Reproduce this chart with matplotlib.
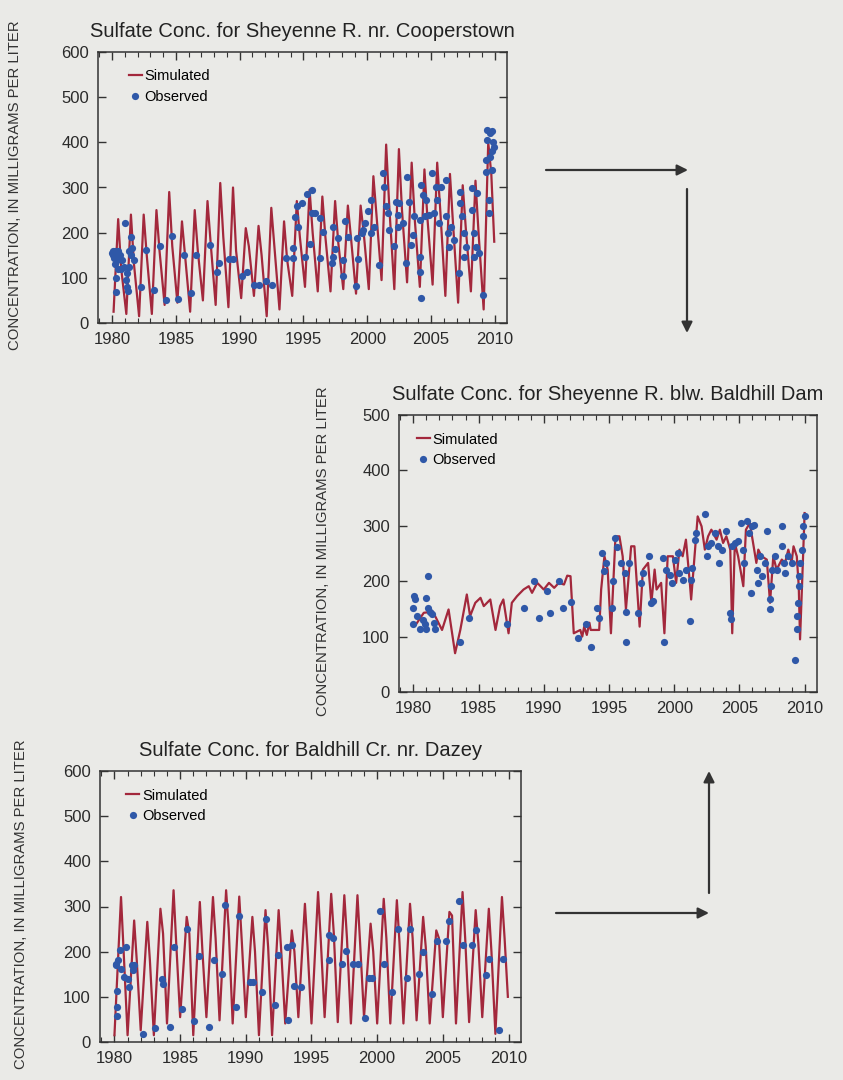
import numpy as np
import matplotlib
matplotlib.use('Agg')
import matplotlib.pyplot as plt
from matplotlib.ticker import MultipleLocator

plt.rcParams['font.family'] = ['Liberation Sans', 'DejaVu Sans']

######## data

# panel 1 - Sheyenne R. nr. Cooperstown (simulated: yearly trough / peak / shoulder)
coop_years = list(range(1980, 2010))
coop_low = [25, 20, 15, 20, 40, 45, 25, 50, 40, 35, 55, 60, 15, 30, 60,
            80, 70, 70, 75, 65, 75, 95, 75, 90, 80, 85, 60, 45, 70, 30]
coop_high = [230, 240, 240, 250, 290, 225, 250, 270, 310, 300, 210, 215, 255, 225, 270,
             295, 280, 270, 260, 260, 325, 395, 385, 355, 340, 355, 330, 305, 315, 400]
coop_mid = [120, 130, 150, 160, 170, 150, 160, 180, 190, 160, 170, 150, 170, 140, 190,
            200, 190, 180, 190, 200, 240, 260, 250, 230, 230, 250, 220, 210, 200, 330]
coop_end = 180

coop_obs_t = [1980.0, 1980.05, 1980.1, 1980.15, 1980.2, 1980.25, 1980.3, 1980.3, 1980.35, 1980.4,
              1980.45, 1980.5, 1980.6, 1981.0, 1980.7, 1980.8, 1980.9, 1981.1, 1981.2, 1981.25,
              1981.2, 1981.5, 1981.6, 1981.75, 1981.45, 1981.35, 1981.3,
              1982.25, 1982.7, 1983.25, 1983.75, 1984.2, 1984.7, 1985.2, 1985.6, 1986.2,
              1986.55, 1987.65, 1988.2, 1988.4, 1989.2, 1989.5, 1990.2, 1990.55, 1991.1,
              1991.5, 1992.1, 1992.5, 1993.6, 1994.2, 1994.2, 1994.3, 1994.5, 1994.6,
              1994.85, 1995.1, 1995.25, 1995.5, 1995.65, 1995.65, 1995.9, 1996.3, 1996.3,
              1996.55, 1997.2, 1997.3, 1997.3, 1997.45, 1997.7, 1998.1, 1998.1, 1998.25,
              1998.5, 1999.15, 1999.3, 1999.2, 1999.55, 1999.65, 1999.8, 2000.05, 2000.3,
              2000.3, 2000.55, 2000.95, 2001.2, 2001.35, 2001.5, 2001.6, 2001.7, 2002.1,
              2002.25, 2002.4, 2002.4, 2002.5, 2002.8, 2003.05, 2003.15, 2003.3, 2003.45,
              2003.55, 2003.7, 2004.1, 2004.1, 2004.15, 2004.2, 2004.2, 2004.35, 2004.5,
              2004.6, 2004.85, 2005.1, 2005.25, 2005.35, 2005.5, 2005.6, 2005.75, 2006.15,
              2006.15, 2006.3, 2006.4, 2006.55, 2006.8, 2007.15, 2007.3, 2007.3, 2007.45,
              2007.55, 2007.55, 2007.7, 2008.2, 2008.2, 2008.35, 2008.35, 2008.5, 2008.6,
              2008.75, 2009.1, 2009.3, 2009.3, 2009.4, 2009.4, 2009.55, 2009.55, 2009.65,
              2009.65, 2009.8, 2009.8, 2009.9, 2009.75, 2009.85]
coop_obs_v = [155, 150, 160, 145, 160, 130, 100, 68, 155, 140,
              160, 120, 150, 222, 120, 140, 125, 95, 80, 70,
              110, 190, 165, 140, 150, 125, 160,
              80, 162, 72, 170, 52, 193, 54, 150, 66,
              150, 172, 112, 132, 141, 141, 103, 112, 85,
              85, 92, 85, 143, 143, 165, 235, 258, 213,
              266, 147, 285, 175, 295, 243, 243, 143, 232,
              202, 133, 147, 213, 163, 188, 103, 140, 225,
              191, 81, 141, 188, 199, 206, 221, 247, 272,
              199, 213, 129, 331, 302, 258, 243, 206, 171,
              269, 239, 213, 265, 221, 133, 324, 269, 173,
              195, 236, 228, 147, 114, 55, 306, 284, 236,
              272, 239, 331, 243, 302, 272, 221, 302, 317,
              236, 199, 169, 213, 184, 110, 291, 265, 236,
              199, 147, 169, 298, 250, 199, 147, 169, 287,
              155, 63, 361, 335, 427, 405, 272, 243, 420,
              368, 425, 339, 390, 380, 400]

# panel 2 - Sheyenne R. blw. Baldhill Dam
dam_sim_t = [1980.2, 1980.8, 1981.5, 1982.2, 1982.7, 1983.2, 1983.6, 1984.1, 1984.35, 1984.75,
             1985.15, 1985.4, 1985.9, 1986.3, 1986.65, 1986.9, 1987.3, 1987.55, 1987.95, 1988.45,
             1988.85, 1989.1, 1989.5, 1990.0, 1990.4, 1990.8, 1991.15, 1991.55, 1991.8, 1992.05,
             1992.3, 1992.8, 1992.95, 1993.1, 1993.3, 1993.5, 1993.6, 1994.25, 1994.4, 1994.65,
             1994.9, 1995.15, 1995.5, 1995.8, 1996.05, 1996.3, 1996.7, 1996.95, 1997.35, 1997.6,
             1998.0, 1998.25, 1998.5, 1998.65, 1999.0, 1999.25, 1999.5, 1999.9, 2000.15, 2000.4,
             2000.65, 2000.9, 2001.2, 2001.3, 2001.6, 2001.8, 2002.1, 2002.35, 2002.6, 2002.85,
             2003.25, 2003.5, 2003.75, 2004.0, 2004.3, 2004.45, 2004.65, 2004.9, 2005.3, 2005.5,
             2005.8, 2006.05, 2006.3, 2006.45, 2006.7, 2007.1, 2007.35, 2007.6, 2007.85, 2008.25,
             2008.5, 2008.75, 2009.0, 2009.15, 2009.4, 2009.55, 2009.65, 2009.8, 2010.0]
dam_sim_v = [122, 143, 145, 112, 149, 70, 112, 176, 137, 161,
             170, 155, 167, 112, 155, 167, 106, 161, 173, 185,
             191, 179, 197, 185, 197, 188, 197, 194, 210, 209,
             106, 112, 100, 118, 103, 125, 112, 112, 185, 245,
             221, 106, 281, 281, 245, 149, 263, 263, 118, 221,
             233, 161, 221, 185, 197, 106, 245, 245, 197, 257,
             245, 275, 197, 167, 257, 317, 299, 257, 281, 293,
             275, 293, 269, 281, 257, 106, 269, 245, 191, 293,
             305, 269, 233, 257, 245, 239, 161, 245, 221, 239,
             233, 257, 233, 263, 245, 191, 95, 191, 323]

dam_obs_t = [1979.95, 1980.05, 1980.0, 1980.15, 1980.25, 1980.5, 1980.9, 1980.75, 1981.0, 1981.0,
             1981.15, 1981.15, 1981.3, 1981.4, 1981.55, 1981.65, 1983.6, 1984.25, 1987.2, 1988.5,
             1989.25, 1989.6, 1990.25, 1990.45, 1991.15, 1991.5, 1992.1, 1992.65, 1993.2, 1993.65,
             1994.1, 1994.25, 1994.45, 1994.6, 1994.75, 1995.25, 1995.3, 1995.45, 1995.6, 1995.9,
             1996.2, 1996.3, 1996.3, 1996.55, 1997.2, 1997.45, 1997.6, 1998.1, 1998.25, 1998.35,
             1999.15, 1999.25, 1999.4, 1999.65, 1999.8, 2000.05, 2000.3, 2000.4, 2000.65, 2000.9,
             2001.25, 2001.3, 2001.4, 2001.6, 2001.7, 2002.35, 2002.5, 2002.6, 2002.85, 2003.1,
             2003.35, 2003.4, 2003.65, 2004.0, 2004.3, 2004.35, 2004.45, 2004.65, 2004.9, 2005.15,
             2005.3, 2005.35, 2005.55, 2005.7, 2005.95, 2005.9, 2006.1, 2006.35, 2006.45, 2006.6,
             2006.7, 2006.95, 2007.1, 2007.35, 2007.35, 2007.45, 2007.5, 2007.75, 2007.9, 2008.25,
             2008.3, 2008.4, 2008.5, 2008.75, 2009.05, 2009.3, 2009.4, 2009.4, 2009.5, 2009.55,
             2009.6, 2009.65, 2009.8, 2009.85, 2009.9, 2010.0]
dam_obs_v = [122, 173, 152, 167, 137, 113, 122, 130, 113, 170,
             209, 152, 145, 140, 125, 113, 91, 134, 122, 152,
             201, 134, 182, 143, 201, 152, 162, 97, 122, 81,
             152, 134, 251, 218, 233, 152, 201, 278, 262, 233,
             215, 144, 90, 233, 143, 197, 214, 245, 161, 164,
             242, 90, 221, 212, 197, 239, 251, 215, 203, 221,
             128, 203, 224, 275, 287, 321, 245, 263, 269, 287,
             263, 233, 257, 290, 143, 131, 263, 269, 272, 305,
             257, 233, 308, 287, 299, 179, 302, 221, 197, 245,
             209, 233, 291, 149, 167, 191, 221, 245, 221, 299,
             263, 233, 215, 245, 233, 58, 113, 137, 161, 191,
             209, 233, 257, 281, 299, 317]

# panel 3 - Baldhill Cr. nr. Dazey (simulated: yearly trough / peak / shoulder)
dazey_years = list(range(1980, 2010))
dazey_low = [15, 15, 26, 15, 41, 55, 15, 55, 48, 41, 55, 15, 15, 41, 55,
             41, 55, 44, 41, 55, 41, 41, 41, 48, 41, 55, 41, 44, 55, 18]
dazey_high = [321, 269, 266, 295, 336, 277, 310, 321, 336, 322, 277, 292, 292, 247, 306,
              332, 328, 325, 325, 262, 317, 314, 306, 277, 247, 288, 332, 292, 295, 321]
dazey_mid = [200, 180, 180, 240, 220, 240, 200, 230, 250, 220, 200, 210, 200, 200, 210,
             230, 240, 230, 220, 200, 230, 220, 230, 210, 230, 280, 230, 220, 200, 230]
dazey_end = 100

dazey_obs_t = [1980.1, 1980.15, 1980.3, 1980.2, 1980.2, 1980.2, 1980.4, 1980.5, 1980.7, 1980.85,
               1981.0, 1981.1, 1981.35, 1981.45, 1981.5, 1982.2, 1983.1, 1983.6, 1983.7, 1984.2,
               1984.5, 1985.15, 1985.55, 1986.05, 1986.45, 1987.2, 1987.6, 1988.2, 1988.45, 1989.25,
               1989.45, 1990.3, 1990.55, 1991.2, 1991.5, 1992.2, 1992.45, 1993.25, 1993.15, 1993.5,
               1993.7, 1994.2, 1996.35, 1996.35, 1996.65, 1997.35, 1997.65, 1998.15, 1998.55, 1999.1,
               1999.4, 1999.6, 2000.25, 2000.55, 2001.15, 2001.6, 2002.25, 2002.5, 2003.2, 2003.5,
               2004.15, 2004.55, 2005.25, 2005.45, 2006.2, 2006.5, 2007.25, 2007.55, 2008.3, 2008.55,
               2009.25, 2009.6]
dazey_obs_v = [173, 170, 181, 114, 77, 57, 203, 162, 144, 210,
               140, 122, 170, 159, 170, 18, 31, 140, 129, 33,
               210, 74, 251, 46, 190, 33, 181, 150, 303, 77,
               280, 133, 133, 111, 273, 81, 192, 49, 210, 215,
               123, 122, 181, 236, 231, 172, 201, 172, 172, 54,
               142, 142, 291, 172, 111, 251, 142, 251, 151, 199,
               107, 224, 224, 268, 312, 214, 215, 249, 149, 184,
               27, 184]

######## colors
bg = '#eaeae7'
red = '#a3283c'
blue = '#2f58a8'


def seasonal_line(years, low, high, mid, end, ph_low, ph_high, ph_mid):
    t = []
    v = []
    for i in range(len(years)):
        t += [years[i] + ph_low, years[i] + ph_high, years[i] + ph_mid]
        v += [low[i], high[i], mid[i]]
    t.append(years[-1] + 0.95)
    v.append(end)
    return t, v


def style_axes(ax, ymax, title, leg_dx):
    ax.set_facecolor(bg)
    ax.set_xlim(1978.9, 2010.95)
    ax.set_ylim(0, ymax)
    ax.xaxis.set_major_locator(MultipleLocator(5))
    ax.xaxis.set_minor_locator(MultipleLocator(1))
    ax.yaxis.set_major_locator(MultipleLocator(100))
    ax.tick_params(which='both', direction='in', top=True, right=True,
                   labelsize=12, color='#333333', labelcolor='#2a2a2a')
    ax.tick_params(which='major', length=6, width=1, pad=6.5)
    ax.tick_params(which='minor', length=3.5, width=0.8)
    for s in ax.spines.values():
        s.set_color('#333333')
        s.set_linewidth(1.1)
    ax.set_title(title, fontsize=14.5, pad=11, color='#222222')
    ax.set_ylabel('CONCENTRATION, IN MILLIGRAMS PER LITER', fontsize=10.7, color='#333333')
    ax.legend(loc='upper left', bbox_to_anchor=(leg_dx, 1.0), frameon=False,
              fontsize=10.5, handlelength=0.9, handletextpad=0.2, labelspacing=0.45,
              borderaxespad=0.9, borderpad=0.3, numpoints=1)


fig = plt.figure(figsize=(8.43, 10.8), dpi=100)
fig.patch.set_facecolor(bg)

## panel 1
ax1 = fig.add_axes([98/843, 1-323/1080, 409/843, 271/1080])
t1, v1 = seasonal_line(coop_years, coop_low, coop_high, coop_mid, coop_end, 0.12, 0.48, 0.72)
ax1.plot(t1, v1, color=red, lw=1.6, label='Simulated')
ax1.plot(coop_obs_t, coop_obs_v, 'o', color=blue, ms=5.2, mew=0, label='Observed')
style_axes(ax1, 600, 'Sulfate Conc. for Sheyenne R. nr. Cooperstown', 0.032)
ax1.yaxis.set_label_coords(-0.185, 0.51)

## panel 2
ax2 = fig.add_axes([399/843, 1-692/1080, 418/843, 277/1080])
ax2.plot(dam_sim_t, dam_sim_v, color=red, lw=1.6, label='Simulated')
ax2.plot(dam_obs_t, dam_obs_v, 'o', color=blue, ms=5.2, mew=0, label='Observed')
style_axes(ax2, 500, 'Sulfate Conc. for Sheyenne R. blw. Baldhill Dam', 0.0)
ax2.yaxis.set_label_coords(-0.165, 0.51)

## panel 3
ax3 = fig.add_axes([100/843, 1-1042/1080, 421/843, 271/1080])
t3, v3 = seasonal_line(dazey_years, dazey_low, dazey_high, dazey_mid, dazey_end, 0.0, 0.5, 0.7)
ax3.plot(t3, v3, color=red, lw=1.6, label='Simulated')
ax3.plot(dazey_obs_t, dazey_obs_v, 'o', color=blue, ms=5.2, mew=0, label='Observed')
style_axes(ax3, 600, 'Sulfate Conc. for Baldhill Cr. nr. Dazey', 0.021)
ax3.yaxis.set_label_coords(-0.17, 0.51)

## arrows (figure pixels, origin bottom left)
H = 1080
arrow_kw = dict(arrowstyle='-|>', color='#333333', lw=1.6, mutation_scale=16,
                shrinkA=0, shrinkB=0)
for (x0, y0, x1, y1) in [(546, 170, 688, 170), (687, 189, 687, 333),
                         (556, 913, 709, 913), (709, 893, 709, 771)]:
    ax1.annotate('', xy=(x1, H - y1), xytext=(x0, H - y0),
                 xycoords='figure pixels', textcoords='figure pixels',
                 arrowprops=arrow_kw, annotation_clip=False)

fig.savefig('out.png', dpi=100, facecolor=bg)
